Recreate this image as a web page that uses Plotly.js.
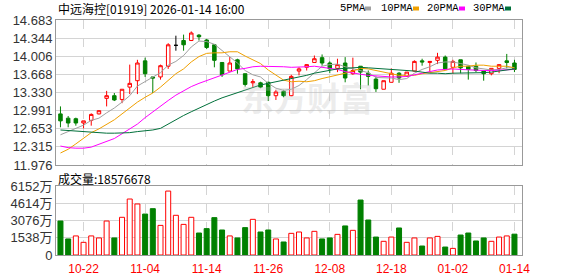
<!DOCTYPE html>
<html><head><meta charset="utf-8">
<script src="https://cdn.plot.ly/plotly-3.0.1.min.js"></script>
<style>html,body{margin:0;padding:0;background:#fff}#chart{width:578px;height:276px}</style>
</head><body><div id="chart"></div>
<script>
const dates = ['2025-10-17','2025-10-20','2025-10-21','2025-10-22','2025-10-23','2025-10-24','2025-10-27','2025-10-28','2025-10-30','2025-10-31',
'2025-11-03','2025-11-04','2025-11-05','2025-11-06','2025-11-07','2025-11-10','2025-11-11','2025-11-12','2025-11-13','2025-11-14',
'2025-11-17','2025-11-18','2025-11-19','2025-11-20','2025-11-21','2025-11-24','2025-11-25','2025-11-26','2025-11-27','2025-11-28',
'2025-12-01','2025-12-02','2025-12-03','2025-12-04','2025-12-05','2025-12-08','2025-12-09','2025-12-10','2025-12-11','2025-12-12',
'2025-12-15','2025-12-16','2025-12-17','2025-12-18','2025-12-19','2025-12-22','2025-12-23','2025-12-24','2025-12-29','2025-12-30',
'2025-12-31','2026-01-02','2026-01-05','2026-01-06','2026-01-07','2026-01-08','2026-01-09','2026-01-12','2026-01-13','2026-01-14'];
const open = [12.93,12.85,12.84,12.76,12.81,12.93,13.22,13.27,13.20,13.43,
13.55,13.92,13.62,13.62,13.82,14.21,14.30,14.30,14.40,14.31,
14.22,13.89,13.73,13.94,13.68,13.51,13.51,13.52,13.27,13.35,
13.27,13.73,13.80,13.89,13.98,13.88,13.78,13.88,13.68,13.82,
13.69,13.58,13.39,13.52,13.69,13.63,13.73,13.92,13.89,13.93,
13.99,13.80,13.94,13.82,13.82,13.73,13.68,13.78,13.92,13.88];
const high = [13.07,12.89,12.86,12.80,12.94,13.00,13.36,13.32,13.39,13.85,
13.94,13.98,13.62,13.85,14.25,14.39,14.41,14.47,14.42,14.33,
14.22,13.89,13.99,13.96,13.68,13.58,13.53,13.53,13.38,13.38,
13.66,13.80,13.86,14.02,14.04,13.91,13.96,13.99,13.98,13.82,
13.74,13.63,13.55,13.78,13.71,13.71,13.93,13.96,13.91,14.07,
14.02,13.94,13.94,13.83,13.89,13.73,13.78,13.85,14.05,13.94];
const low = [12.68,12.68,12.71,12.66,12.71,12.92,13.07,13.17,13.13,13.30,
13.30,13.62,13.32,13.57,13.77,14.11,14.11,14.29,14.30,14.14,
13.80,13.62,13.73,13.68,13.44,13.43,13.41,13.17,13.19,13.24,
13.26,13.65,13.74,13.89,13.83,13.69,13.71,13.52,13.66,13.39,
13.46,13.34,13.39,13.52,13.51,13.62,13.72,13.83,13.71,13.86,
13.77,13.68,13.69,13.57,13.71,13.55,13.65,13.69,13.78,13.71];
const close = [12.80,12.76,12.76,12.80,12.92,12.99,13.27,13.19,13.39,13.50,
13.88,13.68,13.60,13.83,14.22,14.21,14.22,14.44,14.37,14.17,
13.93,13.66,13.88,13.77,13.48,13.53,13.43,13.27,13.34,13.27,
13.63,13.77,13.85,13.96,13.88,13.77,13.85,13.60,13.74,13.71,
13.63,13.40,13.55,13.69,13.60,13.71,13.91,13.90,13.91,13.99,
13.77,13.91,13.79,13.76,13.74,13.68,13.78,13.85,13.89,13.76];
// volume in 万股
const volume = [3030,1430,1700,1130,1700,1520,3030,1520,3360,4990,
4550,3650,4130,2640,5700,3540,2730,3360,1960,2350,
3330,2230,1700,1520,2440,3180,2050,2230,1430,1160,
1930,2050,1520,2110,1430,1520,1840,2590,2200,4900,
3120,1600,1220,1600,2410,1130,1520,800,1520,1660,
710,590,1780,1960,1250,1520,1220,1600,1700,1857.6678];
const volUp = [0,0,1,1,1,1,1,0,1,1, 1,0,0,1,1,1,1,1,0,0, 0,0,1,0,0,1,0,0,1,0,
1,1,1,1,0,0,1,0,1,0, 0,0,1,1,0,1,1,0,1,1, 0,1,0,0,0,0,1,1,1,0];
const ma5 = [12.54,12.60,12.66,12.72,12.81,12.85,12.95,13.04,13.15,13.27,
13.45,13.53,13.61,13.70,13.84,13.91,14.02,14.18,14.29,14.28,
14.23,14.11,14.00,13.88,13.74,13.66,13.62,13.50,13.41,13.37,
13.39,13.46,13.57,13.70,13.82,13.85,13.86,13.81,13.77,13.73,
13.70,13.61,13.61,13.60,13.57,13.59,13.69,13.76,13.81,13.88,
13.90,13.90,13.87,13.84,13.79,13.77,13.75,13.76,13.79,13.79];
const ma10 = [12.20,12.27,12.37,12.48,12.58,12.65,12.73,12.82,12.93,13.04,
13.15,13.24,13.32,13.43,13.56,13.68,13.77,13.90,14.00,14.06,
14.07,14.07,14.09,14.09,14.01,13.94,13.87,13.75,13.65,13.56,
13.53,13.54,13.53,13.55,13.59,13.62,13.66,13.69,13.73,13.78,
13.77,13.74,13.71,13.68,13.65,13.65,13.65,13.68,13.70,13.73,
13.74,13.79,13.82,13.82,13.84,13.84,13.82,13.82,13.82,13.79];
const ma20 = [12.33,12.30,12.29,12.29,12.31,12.36,12.41,12.47,12.56,12.65,
12.74,12.86,12.97,13.07,13.18,13.28,13.36,13.44,13.50,13.55,
13.61,13.65,13.71,13.76,13.78,13.81,13.82,13.82,13.82,13.81,
13.80,13.80,13.81,13.82,13.80,13.78,13.76,13.72,13.69,13.67,
13.65,13.64,13.62,13.62,13.62,13.63,13.66,13.69,13.72,13.75,
13.76,13.77,13.76,13.75,13.75,13.74,13.74,13.75,13.76,13.76];
const ma30 = [12.63,12.62,12.60,12.59,12.58,12.57,12.57,12.57,12.57,12.58,
12.60,12.61,12.63,12.66,12.74,12.83,12.90,12.97,13.04,13.11,
13.17,13.23,13.28,13.33,13.37,13.42,13.47,13.50,13.53,13.55,
13.58,13.61,13.65,13.69,13.72,13.75,13.77,13.78,13.79,13.80,
13.79,13.78,13.78,13.77,13.75,13.74,13.73,13.71,13.69,13.69,
13.68,13.69,13.69,13.69,13.69,13.70,13.71,13.73,13.75,13.77];
const priceTicks = [11.976,12.315,12.653,12.991,13.330,13.668,14.006,14.344,14.683];
const priceTickText = ['11.976','12.315','12.653','12.991','13.330','13.668','14.006','14.344','14.683'];
const volTicks = [0,1538,3076,4614,6152];
const volTickText = ['0','1538万','3076万','4614万','6152万'];
const tickDates = ['2025-10-22','2025-11-04','2025-11-14','2025-11-26','2025-12-08','2025-12-18','2026-01-02','2026-01-14'];
const tickLabels = ['10-22','11-04','11-14','11-26','12-08','12-18','01-02','01-14'];
const stockTitle = '中远海控[01919] 2026-01-14 16:00';
const volumeLabel = '成交量:18576678';
const maNames = ['5PMA','10PMA','20PMA','30PMA'];
const maColors = ['#a0a0a0','#f0a000','#ff00ff','#00703a'];
const watermark = '东方财富';

const RED = '#ff0000', GREEN = '#008000';
const W = 578, H = 276, ML = 56, MR = 56, MT = 20, MB = 21;
const PW = W - ML - MR, PH = H - MT - MB;
const px = x => (x - ML) / PW;
const py = y => (H - MB - y) / PH;

const isFlat = open.map((o, i) => o === close[i]);
const pick = (arr, keep) => arr.map((v, i) => keep(i) ? v : null);

const traces = [];
[ma5, ma10, ma20, ma30].forEach((m, k) => traces.push({
  type: 'scatter', mode: 'lines', x: dates, y: m, xaxis: 'x', yaxis: 'y',
  line: {color: maColors[k], width: 1}, hoverinfo: 'skip', name: maNames[k]
}));
traces.push({
  type: 'candlestick', x: dates, xaxis: 'x', yaxis: 'y',
  open: pick(open, i => !isFlat[i]), high: pick(high, i => !isFlat[i]),
  low: pick(low, i => !isFlat[i]), close: pick(close, i => !isFlat[i]),
  increasing: {line: {color: RED, width: 1}, fillcolor: '#ffffff'},
  decreasing: {line: {color: GREEN, width: 1}, fillcolor: GREEN},
  whiskerwidth: 0, name: 'K'
});
traces.push({
  type: 'candlestick', x: dates, xaxis: 'x', yaxis: 'y',
  open: pick(open, i => isFlat[i]), high: pick(high, i => isFlat[i]),
  low: pick(low, i => isFlat[i]), close: pick(close, i => isFlat[i]),
  increasing: {line: {color: '#000', width: 1}, fillcolor: '#000'},
  decreasing: {line: {color: '#000', width: 1}, fillcolor: '#000'},
  whiskerwidth: 0, name: 'flat'
});
traces.push({
  type: 'bar', x: dates, y: volume, xaxis: 'x2', yaxis: 'y2',
  marker: {color: volUp.map(u => u ? '#ffffff' : GREEN),
           line: {color: volUp.map(u => u ? RED : GREEN), width: 1}},
  hoverinfo: 'skip', name: 'VOL'
});

const grid = '#d4d4d4', border = '#999999';
const tickFont = {family: 'Liberation Sans, Arial, sans-serif', size: 13, color: '#333'};
const xCommon = {
  type: 'category', categoryorder: 'array', categoryarray: dates,
  range: [-0.58, 59.98], tickvals: tickDates, ticktext: tickLabels, ticks: '',
  showgrid: true, gridcolor: grid, griddash: 'dash', gridwidth: 1,
  showline: true, mirror: true, linecolor: border, linewidth: 1,
  zeroline: false, fixedrange: true
};
const yCommon = {
  ticks: '', showgrid: true, gridcolor: grid, gridwidth: 1,
  showline: true, mirror: true, linecolor: border, linewidth: 1,
  zeroline: false, tickfont: tickFont, fixedrange: true
};

const annotations = [
  {xref: 'paper', yref: 'paper', x: px(56), y: py(8.5), xanchor: 'left', yanchor: 'middle',
   text: stockTitle, showarrow: false, font: {family: 'Noto Sans CJK SC', size: 12, color: '#000'}},
  {xref: 'paper', yref: 'paper', x: px(56), y: py(178), xanchor: 'left', yanchor: 'middle',
   text: volumeLabel, showarrow: false, font: {family: 'Noto Sans CJK SC', size: 12, color: '#000'}},
  {xref: 'paper', yref: 'paper', x: px(307), y: py(97), xanchor: 'center', yanchor: 'middle',
   text: '<b>' + watermark + '</b>', showarrow: false,
   font: {family: 'Noto Sans CJK SC', size: 33, color: 'rgba(190,190,190,0.28)'}}
];
const legendLeft = [338, 379, 425, 471];
const boxLeft = [365, 413, 459, 505];
const shapes = [];
maNames.forEach((n, k) => {
  annotations.push({xref: 'paper', yref: 'paper', x: px(legendLeft[k]), y: py(8.5), xanchor: 'left', yanchor: 'middle',
    text: n, showarrow: false, font: {family: 'Liberation Mono, monospace', size: 10.5, color: '#000'}});
  shapes.push({type: 'rect', xref: 'paper', yref: 'paper', x0: px(boxLeft[k]), x1: px(boxLeft[k] + 6),
    y0: py(10.5), y1: py(6.5), fillcolor: maColors[k], line: {width: 0}});
});

const layout = {
  width: W, height: H, margin: {l: ML, r: MR, t: MT, b: MB, pad: 0},
  paper_bgcolor: '#fff', plot_bgcolor: '#fff', showlegend: false,
  boxgap: 0.35, bargap: 0.35, hovermode: false,
  xaxis: Object.assign({}, xCommon, {anchor: 'y', showticklabels: false, rangeslider: {visible: false}}),
  yaxis: Object.assign({}, yCommon, {domain: [py(165), 1], range: [11.976, 14.683],
    tickvals: priceTicks, ticktext: priceTickText}),
  xaxis2: Object.assign({}, xCommon, {anchor: 'y2', showticklabels: true,
    tickfont: {family: 'Liberation Sans, Arial, sans-serif', size: 12, color: RED}, ticklabelstandoff: 3}),
  yaxis2: Object.assign({}, yCommon, {domain: [0, py(186)], range: [0, 6152],
    tickvals: volTicks, ticktext: volTickText,
    tickfont: {family: 'Liberation Sans, Noto Sans CJK SC, sans-serif', size: 13, color: '#333'}}),
  annotations: annotations, shapes: shapes
};

Plotly.newPlot('chart', traces, layout, {displayModeBar: false, staticPlot: true});
</script></body></html>
